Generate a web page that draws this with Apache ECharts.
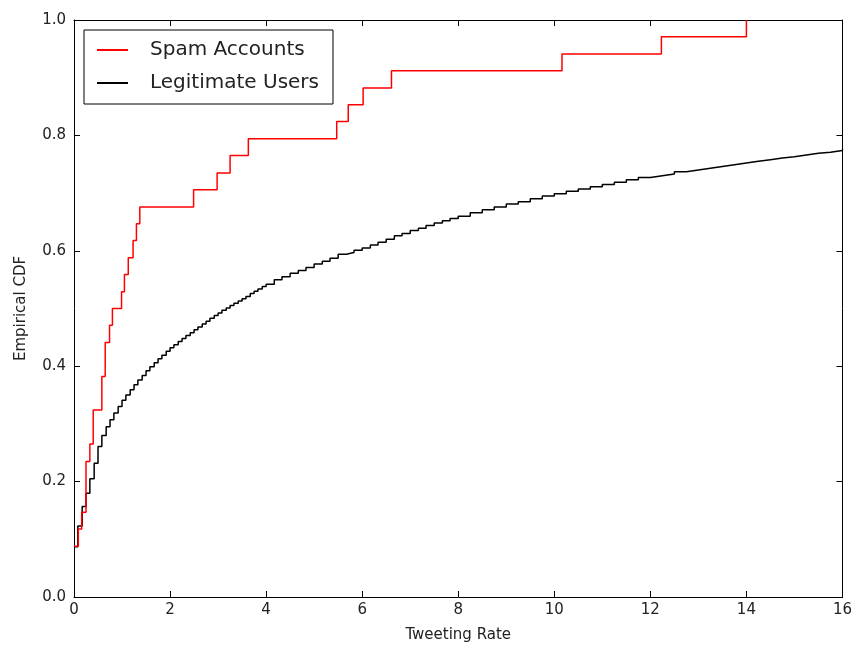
<!DOCTYPE html>
<html>
<head>
<meta charset="utf-8">
<script src="https://cdn.jsdelivr.net/npm/echarts@6/dist/echarts.min.js"></script>
<style>
html,body{margin:0;padding:0;background:#fff;}
#chart{width:855px;height:649px;}
</style>
</head>
<body>
<div id="chart"></div>
<script>
// ---- data ----
const seriesNames = ['Spam Accounts', 'Legitimate Users'];
const xTicks = [0, 2, 4, 6, 8, 10, 12, 14, 16];
const yTicks = [0.0, 0.2, 0.4, 0.6, 0.8, 1.0];

// Spam accounts ECDF: step positions and cumulative fraction (k/34)
const spamX = [0, 0.09, 0.16, 0.25, 0.33, 0.40, 0.58, 0.65, 0.74, 0.80, 0.99, 1.05, 1.13, 1.23, 1.30, 1.37,
  2.49, 2.98, 3.25, 3.63, 5.47, 5.71, 6.02, 6.61, 10.16, 12.23, 14.0];
const spamY = [0.088, 0.118, 0.147, 0.235, 0.265, 0.324, 0.382, 0.441, 0.471, 0.500, 0.529, 0.559, 0.588, 0.618, 0.647, 0.676,
  0.706, 0.735, 0.765, 0.794, 0.824, 0.853, 0.882, 0.912, 0.941, 0.971, 1.000];

// Legitimate users ECDF: step positions and cumulative fraction
const legitX = [0, 0.08, 0.17, 0.25, 0.33, 0.42, 0.5, 0.58, 0.67, 0.75, 0.83, 0.92, 1.0, 1.08, 1.17, 1.25, 1.33,
  1.42, 1.5, 1.58, 1.67, 1.75, 1.83, 1.92, 2.0, 2.08, 2.17, 2.25, 2.33, 2.42, 2.5, 2.58, 2.67, 2.75, 2.83, 2.92,
  3.0, 3.08, 3.17, 3.25, 3.33, 3.42, 3.5, 3.58, 3.67, 3.75, 3.83, 3.92, 4.0,
  4.17, 4.33, 4.5, 4.67, 4.83, 5.0, 5.17, 5.33, 5.5, 5.67, 5.83, 6.0, 6.17, 6.33, 6.5, 6.67, 6.83, 7.0,
  7.17, 7.33, 7.5, 7.67, 7.83, 8.0,
  8.25, 8.5, 8.75, 9.0, 9.25, 9.5, 9.75, 10.0, 10.25, 10.5, 10.75, 11.0, 11.25, 11.5, 11.75, 12.0,
  12.25, 12.5, 12.75, 13.0, 13.25, 13.5, 13.75, 14.0, 14.25, 14.5, 14.75, 15.0, 15.25, 15.5, 15.75, 16.0];
const legitY = [0.087, 0.123, 0.157, 0.180, 0.205, 0.232, 0.261, 0.280, 0.295, 0.307, 0.319, 0.330, 0.341, 0.350, 0.359, 0.368, 0.376,
  0.384, 0.392, 0.399, 0.406, 0.413, 0.419, 0.426, 0.432, 0.437, 0.443, 0.448, 0.453, 0.458, 0.463, 0.468, 0.473, 0.478, 0.483, 0.488,
  0.492, 0.497, 0.501, 0.505, 0.509, 0.513, 0.517, 0.521, 0.526, 0.530, 0.534, 0.538, 0.542,
  0.550, 0.555, 0.561, 0.566, 0.571, 0.577, 0.582, 0.587, 0.594, 0.597, 0.601, 0.605, 0.610, 0.615, 0.620, 0.626, 0.630, 0.635,
  0.639, 0.644, 0.648, 0.652, 0.656, 0.660,
  0.666, 0.671, 0.676, 0.681, 0.685, 0.690, 0.695, 0.699, 0.703, 0.707, 0.711, 0.715, 0.719, 0.723, 0.727, 0.730,
  0.733, 0.737, 0.740, 0.743, 0.746, 0.749, 0.752, 0.755, 0.758, 0.761, 0.763, 0.766, 0.769, 0.771, 0.774, 0.776];

const pairs = (xs, ys) => xs.map((x, i) => [x, ys[i]]);
const FONT = 'DejaVu Sans';

const chart = echarts.init(document.getElementById('chart'), null, {renderer: 'canvas'});

const baseAxis = {
  type: 'value',
  axisLine: {show: true, onZero: false, lineStyle: {color: '#000', width: 1}},
  axisTick: {show: true, inside: true, length: 6, lineStyle: {color: '#000', width: 1}},
  splitLine: {show: false}
};

chart.setOption({
  animation: false,
  backgroundColor: '#fff',
  grid: {left: 74, right: 12, top: 20, bottom: 52, containLabel: false},
  legend: {
    data: seriesNames,
    orient: 'vertical',
    left: 84, top: 30,
    icon: 'rect',
    itemWidth: 31, itemHeight: 2,
    itemGap: 9,
    padding: [8, 14, 9, 13],
    borderColor: '#000', borderWidth: 1, borderRadius: 0,
    backgroundColor: '#fff',
    textStyle: {fontFamily: FONT, fontSize: 20, color: '#222', lineHeight: 24, padding: [0, 0, 0, 17]}
  },
  xAxis: [
    Object.assign({}, baseAxis, {
      position: 'bottom', min: xTicks[0], max: xTicks[xTicks.length - 1], interval: 2,
      name: 'Tweeting Rate', nameLocation: 'middle', nameGap: 31,
      nameTextStyle: {fontFamily: FONT, fontSize: 15, color: '#222'},
      axisLabel: {fontFamily: FONT, fontSize: 15, color: '#222', margin: 6}
    }),
    Object.assign({}, baseAxis, {
      position: 'top', min: xTicks[0], max: xTicks[xTicks.length - 1], interval: 2,
      axisLabel: {show: false}
    })
  ],
  yAxis: [
    Object.assign({}, baseAxis, {
      position: 'left', min: yTicks[0], max: yTicks[yTicks.length - 1], interval: 0.2,
      name: 'Empirical CDF', nameLocation: 'middle', nameGap: 45,
      nameTextStyle: {fontFamily: FONT, fontSize: 15, color: '#222'},
      axisLabel: {fontFamily: FONT, fontSize: 15, color: '#222', margin: 8,
        formatter: v => v.toFixed(1)}
    }),
    Object.assign({}, baseAxis, {
      position: 'right', min: yTicks[0], max: yTicks[yTicks.length - 1], interval: 0.2,
      axisLabel: {show: false}
    })
  ],
  series: [
    {
      name: seriesNames[0], type: 'line', step: 'end', showSymbol: false, symbol: 'none',
      xAxisIndex: 0, yAxisIndex: 0,
      lineStyle: {color: '#ff0000', width: 1.5}, itemStyle: {color: '#ff0000'},
      data: pairs(spamX, spamY), z: 3, clip: true
    },
    {
      name: seriesNames[1], type: 'line', step: 'end', showSymbol: false, symbol: 'none',
      xAxisIndex: 0, yAxisIndex: 0,
      lineStyle: {color: '#000000', width: 1.5}, itemStyle: {color: '#000000'},
      data: pairs(legitX, legitY), z: 2, clip: true
    }
  ]
});
</script>
</body>
</html>
